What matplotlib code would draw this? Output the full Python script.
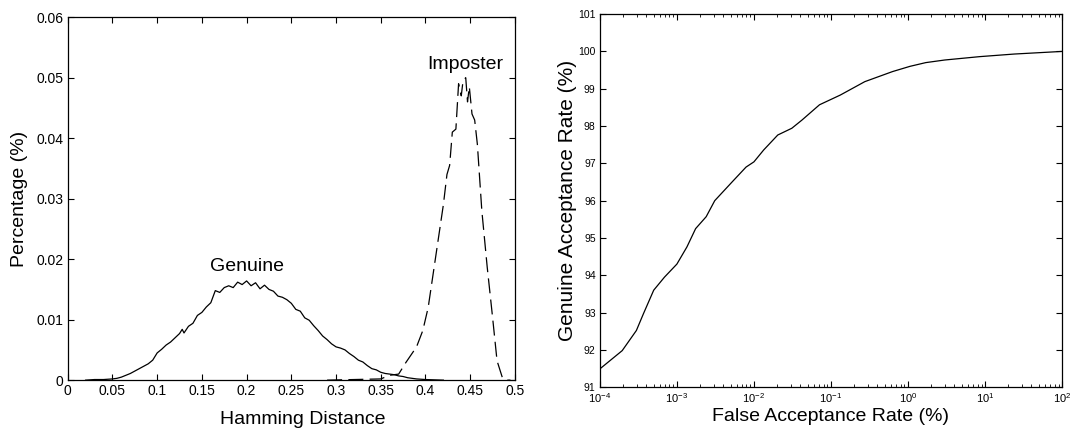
import matplotlib
matplotlib.use("Agg")
import matplotlib.pyplot as plt
from matplotlib.ticker import LogLocator, NullFormatter

# Genuine / imposter Hamming distance distributions
genuine_hd = [0.020, 0.030, 0.040, 0.050, 0.055, 0.060, 0.065, 0.070, 0.075, 0.080,
              0.085, 0.090, 0.095, 0.100, 0.105, 0.110, 0.115, 0.120, 0.125, 0.128,
              0.130, 0.135, 0.140, 0.145, 0.150, 0.155, 0.160, 0.165, 0.170, 0.175,
              0.180, 0.185, 0.190, 0.195, 0.200, 0.205, 0.210, 0.215, 0.220, 0.225,
              0.230, 0.235, 0.240, 0.245, 0.250, 0.255, 0.260, 0.265, 0.270, 0.275,
              0.280, 0.285, 0.290, 0.295, 0.300, 0.305, 0.310, 0.315, 0.320, 0.325,
              0.330, 0.335, 0.340, 0.345, 0.350, 0.355, 0.360, 0.365, 0.370, 0.375,
              0.380, 0.390, 0.400, 0.410, 0.420]
genuine_pct = [0.0000, 0.0001, 0.0001, 0.0002, 0.0003, 0.0005, 0.0008, 0.0011, 0.0015, 0.0019,
               0.0023, 0.0027, 0.0033, 0.0045, 0.0051, 0.0058, 0.0063, 0.0070, 0.0077, 0.0084,
               0.0078, 0.0089, 0.0094, 0.0107, 0.0112, 0.0121, 0.0128, 0.0148, 0.0145, 0.0153,
               0.0156, 0.0153, 0.0162, 0.0158, 0.0164, 0.0156, 0.0161, 0.0151, 0.0157, 0.0150,
               0.0147, 0.0139, 0.0137, 0.0133, 0.0127, 0.0117, 0.0114, 0.0103, 0.0099, 0.0090,
               0.0082, 0.0073, 0.0067, 0.0060, 0.0055, 0.0053, 0.0050, 0.0044, 0.0039, 0.0033,
               0.0030, 0.0024, 0.0019, 0.0017, 0.0013, 0.0011, 0.0010, 0.0009, 0.0007, 0.0006,
               0.0004, 0.0002, 0.0001, 0.00005, 0.0000]

imposter_hd = [0.290, 0.320, 0.350, 0.360, 0.370, 0.378, 0.390, 0.397, 0.403, 0.408,
               0.415, 0.420, 0.424, 0.427, 0.430, 0.434, 0.437, 0.440, 0.442, 0.445,
               0.447, 0.449, 0.452, 0.455, 0.458, 0.463, 0.469, 0.475, 0.480, 0.486,
               0.490, 0.495]
imposter_pct = [0.0000, 0.0001, 0.0002, 0.0008, 0.0010, 0.0029, 0.0055, 0.0082, 0.0120, 0.0170,
                0.0240, 0.0290, 0.0340, 0.0355, 0.0410, 0.0415, 0.0490, 0.0470, 0.0495, 0.0500,
                0.0460, 0.0485, 0.0440, 0.0430, 0.0390, 0.0280, 0.0187, 0.0104, 0.0032, 0.0004,
                0.0000, 0.0000]

# ROC: false acceptance rate (%) vs genuine acceptance rate (%)
far = [1.0e-4, 1.95e-4, 2.98e-4, 3.68e-4, 5.0e-4, 6.9e-4, 1.0e-3, 1.35e-3, 1.75e-3, 2.4e-3,
       3.1e-3, 5.2e-3, 7.9e-3, 1.0e-2, 1.34e-2, 2.04e-2, 3.1e-2, 4.2e-2, 7.1e-2, 0.132,
       0.275, 0.63, 1.06, 1.7, 3.0, 8.5, 24.0, 100.0]
gar = [91.49, 91.98, 92.52, 92.97, 93.60, 93.95, 94.30, 94.76, 95.25, 95.57,
       96.00, 96.50, 96.90, 97.04, 97.36, 97.76, 97.94, 98.16, 98.57, 98.83,
       99.19, 99.46, 99.60, 99.70, 99.77, 99.86, 99.93, 100.00]

hd_ticks = [0, 0.05, 0.1, 0.15, 0.2, 0.25, 0.3, 0.35, 0.4, 0.45, 0.5]
hd_labels = ["0", "0.05", "0.1", "0.15", "0.2", "0.25", "0.3", "0.35", "0.4", "0.45", "0.5"]
pct_ticks = [0, 0.01, 0.02, 0.03, 0.04, 0.05, 0.06]
pct_labels = ["0", "0.01", "0.02", "0.03", "0.04", "0.05", "0.06"]
far_ticks = [1e-4, 1e-3, 1e-2, 1e-1, 1e0, 1e1, 1e2]
gar_ticks = list(range(91, 102))

plt.rcParams.update({
    "font.family": ["Liberation Sans", "DejaVu Sans"],
    "axes.linewidth": 0.9,
    "xtick.direction": "in",
    "ytick.direction": "in",
    "xtick.top": True,
    "ytick.right": True,
})

fig = plt.figure(figsize=(10.75, 4.41), dpi=100)
ax1 = fig.add_axes([0.063, 0.138, 0.416, 0.823])
ax2 = fig.add_axes([0.558, 0.122, 0.430, 0.846])

# --- left: distributions ---
ax1.plot(genuine_hd, genuine_pct, color="black", lw=0.9)
ax1.plot(imposter_hd, imposter_pct, color="black", lw=0.9, linestyle=(0, (12, 5)))
ax1.text(0.2, 0.0188, "Genuine", ha="center", va="center", fontsize=14)
ax1.text(0.445, 0.0522, "Imposter", ha="center", va="center", fontsize=14)
ax1.set_xlim(0, 0.5)
ax1.set_ylim(0, 0.06)
ax1.set_xticks(hd_ticks)
ax1.set_xticklabels(hd_labels)
ax1.set_yticks(pct_ticks)
ax1.set_yticklabels(pct_labels)
ax1.tick_params(labelsize=10, length=4, width=0.8, pad=3)
ax1.set_xlabel("Hamming Distance", fontsize=14, labelpad=9)
ax1.xaxis.set_label_coords(0.525, -0.085)
ax1.set_ylabel("Percentage (%)", fontsize=14, labelpad=6)

# --- right: ROC ---
ax2.semilogx(far, gar, color="black", lw=0.9)
ax2.set_xlim(1e-4, 1e2)
ax2.set_ylim(91, 101)
ax2.set_xticks(far_ticks)
ax2.set_yticks(gar_ticks)
ax2.xaxis.set_minor_locator(LogLocator(base=10, subs=range(2, 10), numticks=20))
ax2.xaxis.set_minor_formatter(NullFormatter())
ax2.tick_params(axis="x", which="major", labelsize=8, length=4, width=0.8, pad=3)
ax2.tick_params(axis="y", which="major", labelsize=7.5, length=4, width=0.8, pad=3)
ax2.tick_params(which="minor", length=2.5, width=0.6, top=True)
ax2.set_xlabel("False Acceptance Rate (%)", fontsize=14, labelpad=2)
ax2.set_ylabel("Genuine Acceptance Rate (%)", fontsize=15, labelpad=1)

fig.savefig("out.png", dpi=100)
